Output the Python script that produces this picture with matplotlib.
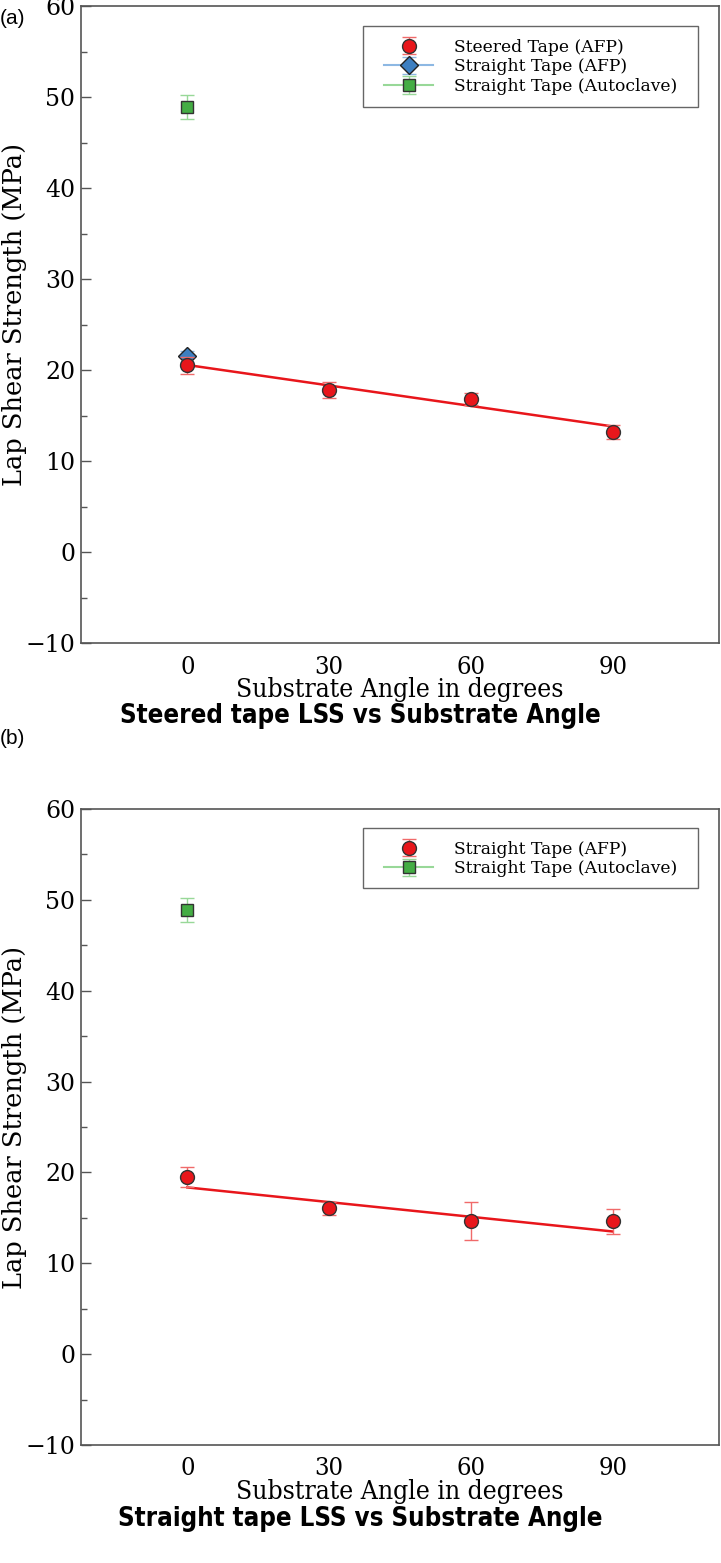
import matplotlib
matplotlib.use("Agg")
import matplotlib.pyplot as plt
from matplotlib import font_manager
from matplotlib.font_manager import FontProperties
from matplotlib.patches import Rectangle
from matplotlib.ticker import MultipleLocator

# data
angles = [0, 30, 60, 90]
fit_x = [0, 90]

# (a) steered tape
steered_lss = [20.5, 17.8, 16.8, 13.2]
steered_err = [0.9, 0.9, 0.65, 0.8]
steered_fit = [20.55, 13.8]
straight_afp_x = [0]
straight_afp_lss = [21.5]
straight_afp_err = [0.6]
autoclave_x = [0]
autoclave_lss = [48.9]
autoclave_err = [1.3]

# (b) straight tape
straight_lss = [19.45, 16.05, 14.7, 14.6]
straight_err = [1.1, 0.7, 2.1, 1.4]
straight_fit = [18.35, 13.5]

plt.rcParams['font.family'] = ['DejaVu Serif']


def find_font(name):
    for f in font_manager.findSystemFonts():
        if f.split('/')[-1] == name:
            return f
    return None


serif_cond = find_font('DejaVuSerifCondensed.ttf')
sans_cond_bold = find_font('DejaVuSansCondensed-Bold.ttf')

if serif_cond:
    xfont = lambda size: FontProperties(fname=serif_cond, size=size)
    xsize = 18.3
else:
    xfont = lambda size: FontProperties(family='DejaVu Serif', size=size)
    xsize = 16.5
if sans_cond_bold:
    tfont = FontProperties(fname=sans_cond_bold, size=18.5)
else:
    tfont = FontProperties(family='DejaVu Sans', weight='bold', size=17)

W, H = 721, 1563
fig = plt.figure(figsize=(W / 100, H / 100), dpi=100)

RED = '#e8161b'
RED_E = '#f06a6a'
BLUE = '#3d7fc1'
BLUE_L = '#8db8e3'
GREEN = '#44ad44'
GREEN_L = '#98d898'
AW, AH = 638, 637


def setup(ax):
    ax.set_xlim(-22.5, 112.5)
    ax.set_ylim(-10, 60)
    ax.set_xticks(angles)
    ax.yaxis.set_major_locator(MultipleLocator(10))
    ax.yaxis.set_minor_locator(MultipleLocator(5))
    ax.tick_params(axis='y', which='major', direction='in', length=7, width=1,
                   color='#555555', labelsize=17, pad=4)
    ax.tick_params(axis='y', which='minor', direction='in', length=4, width=1,
                   color='#555555')
    ax.tick_params(axis='x', length=0, pad=0)
    ax.set_xticklabels([str(a) for a in angles], fontproperties=xfont(xsize),
                       va='center')
    for lab in ax.get_xticklabels():
        lab.set_y(-24 / AH)
    for sp in ax.spines.values():
        sp.set_color('#555555')
        sp.set_linewidth(1.2)
    ax.set_xlabel('Substrate Angle in degrees', fontproperties=xfont(xsize + 0.7),
                  va='center')
    ax.xaxis.set_label_coords(0.5, -47 / AH)
    ax.set_ylabel('Lap Shear Strength (MPa)', fontsize=18.5, va='center')
    ax.yaxis.set_label_coords(-66 / AW, 0.5 + 10 / AH)


def red_points(ax, y, yerr, label):
    ax.errorbar(angles, y, yerr=yerr, fmt='o', ms=10, mfc=RED, mec='#333333',
                mew=1, ecolor=RED_E, elinewidth=1, capsize=5, capthick=1,
                label=label, zorder=4)


def autoclave_point(ax):
    ax.errorbar(autoclave_x, autoclave_lss, yerr=autoclave_err, fmt='s-',
                ms=9, mfc=GREEN, mec='#333333', mew=1, color=GREEN_L,
                ecolor=GREEN_L, elinewidth=1, capsize=5, capthick=1,
                label='Straight Tape (Autoclave)', zorder=4)


def legend(ax, top, bottom):
    # pixel offsets measured from the axes top-left corner
    ax.legend(loc='upper right', bbox_to_anchor=((690 - 81) / AW, 1 - top / AH),
              borderaxespad=0, fontsize=12.3, frameon=False, borderpad=0.75,
              handlelength=2.9, handletextpad=1.2, labelspacing=0.15)
    box = Rectangle(((363 - 81) / AW, 1 - bottom / AH), (698 - 363) / AW,
                    (bottom - top) / AH, transform=ax.transAxes, fill=True,
                    facecolor='white', edgecolor='#666666', lw=1, zorder=5)
    ax.add_patch(box)
    ax.get_legend().set_zorder(6)


# ---- panel (a)
ax1 = fig.add_axes([81 / W, 1 - 643 / H, AW / W, AH / H])
ax1.plot(fit_x, steered_fit, color=RED, lw=1.8, zorder=3)
red_points(ax1, steered_lss, steered_err, 'Steered Tape (AFP)')
ax1.errorbar(straight_afp_x, straight_afp_lss, yerr=straight_afp_err, fmt='D-',
             ms=9.5, mfc=BLUE, mec='#222222', mew=1, color=BLUE_L, ecolor=BLUE_L,
             elinewidth=1, capsize=5, capthick=1, label='Straight Tape (AFP)',
             zorder=3)
autoclave_point(ax1)
setup(ax1)
legend(ax1, 20, 101)

# ---- panel (b)
ax2 = fig.add_axes([81 / W, 1 - 1445 / H, AW / W, 636 / H])
ax2.plot(fit_x, straight_fit, color=RED, lw=1.8, zorder=3)
red_points(ax2, straight_lss, straight_err, 'Straight Tape (AFP)')
autoclave_point(ax2)
setup(ax2)
legend(ax2, 19, 79)

fig.text(360 / W, 1 - 716 / H, 'Steered tape LSS vs Substrate Angle',
         fontproperties=tfont, ha='center', va='center')
fig.text(360 / W, 1 - 1519 / H, 'Straight tape LSS vs Substrate Angle',
         fontproperties=tfont, ha='center', va='center')

fig.text(0, 1 - 18 / H, '(a)', family='Liberation Sans', fontsize=15,
         ha='left', va='center')
fig.text(0, 1 - 739 / H, '(b)', family='Liberation Sans', fontsize=15,
         ha='left', va='center')

fig.savefig('out.png', dpi=100)
